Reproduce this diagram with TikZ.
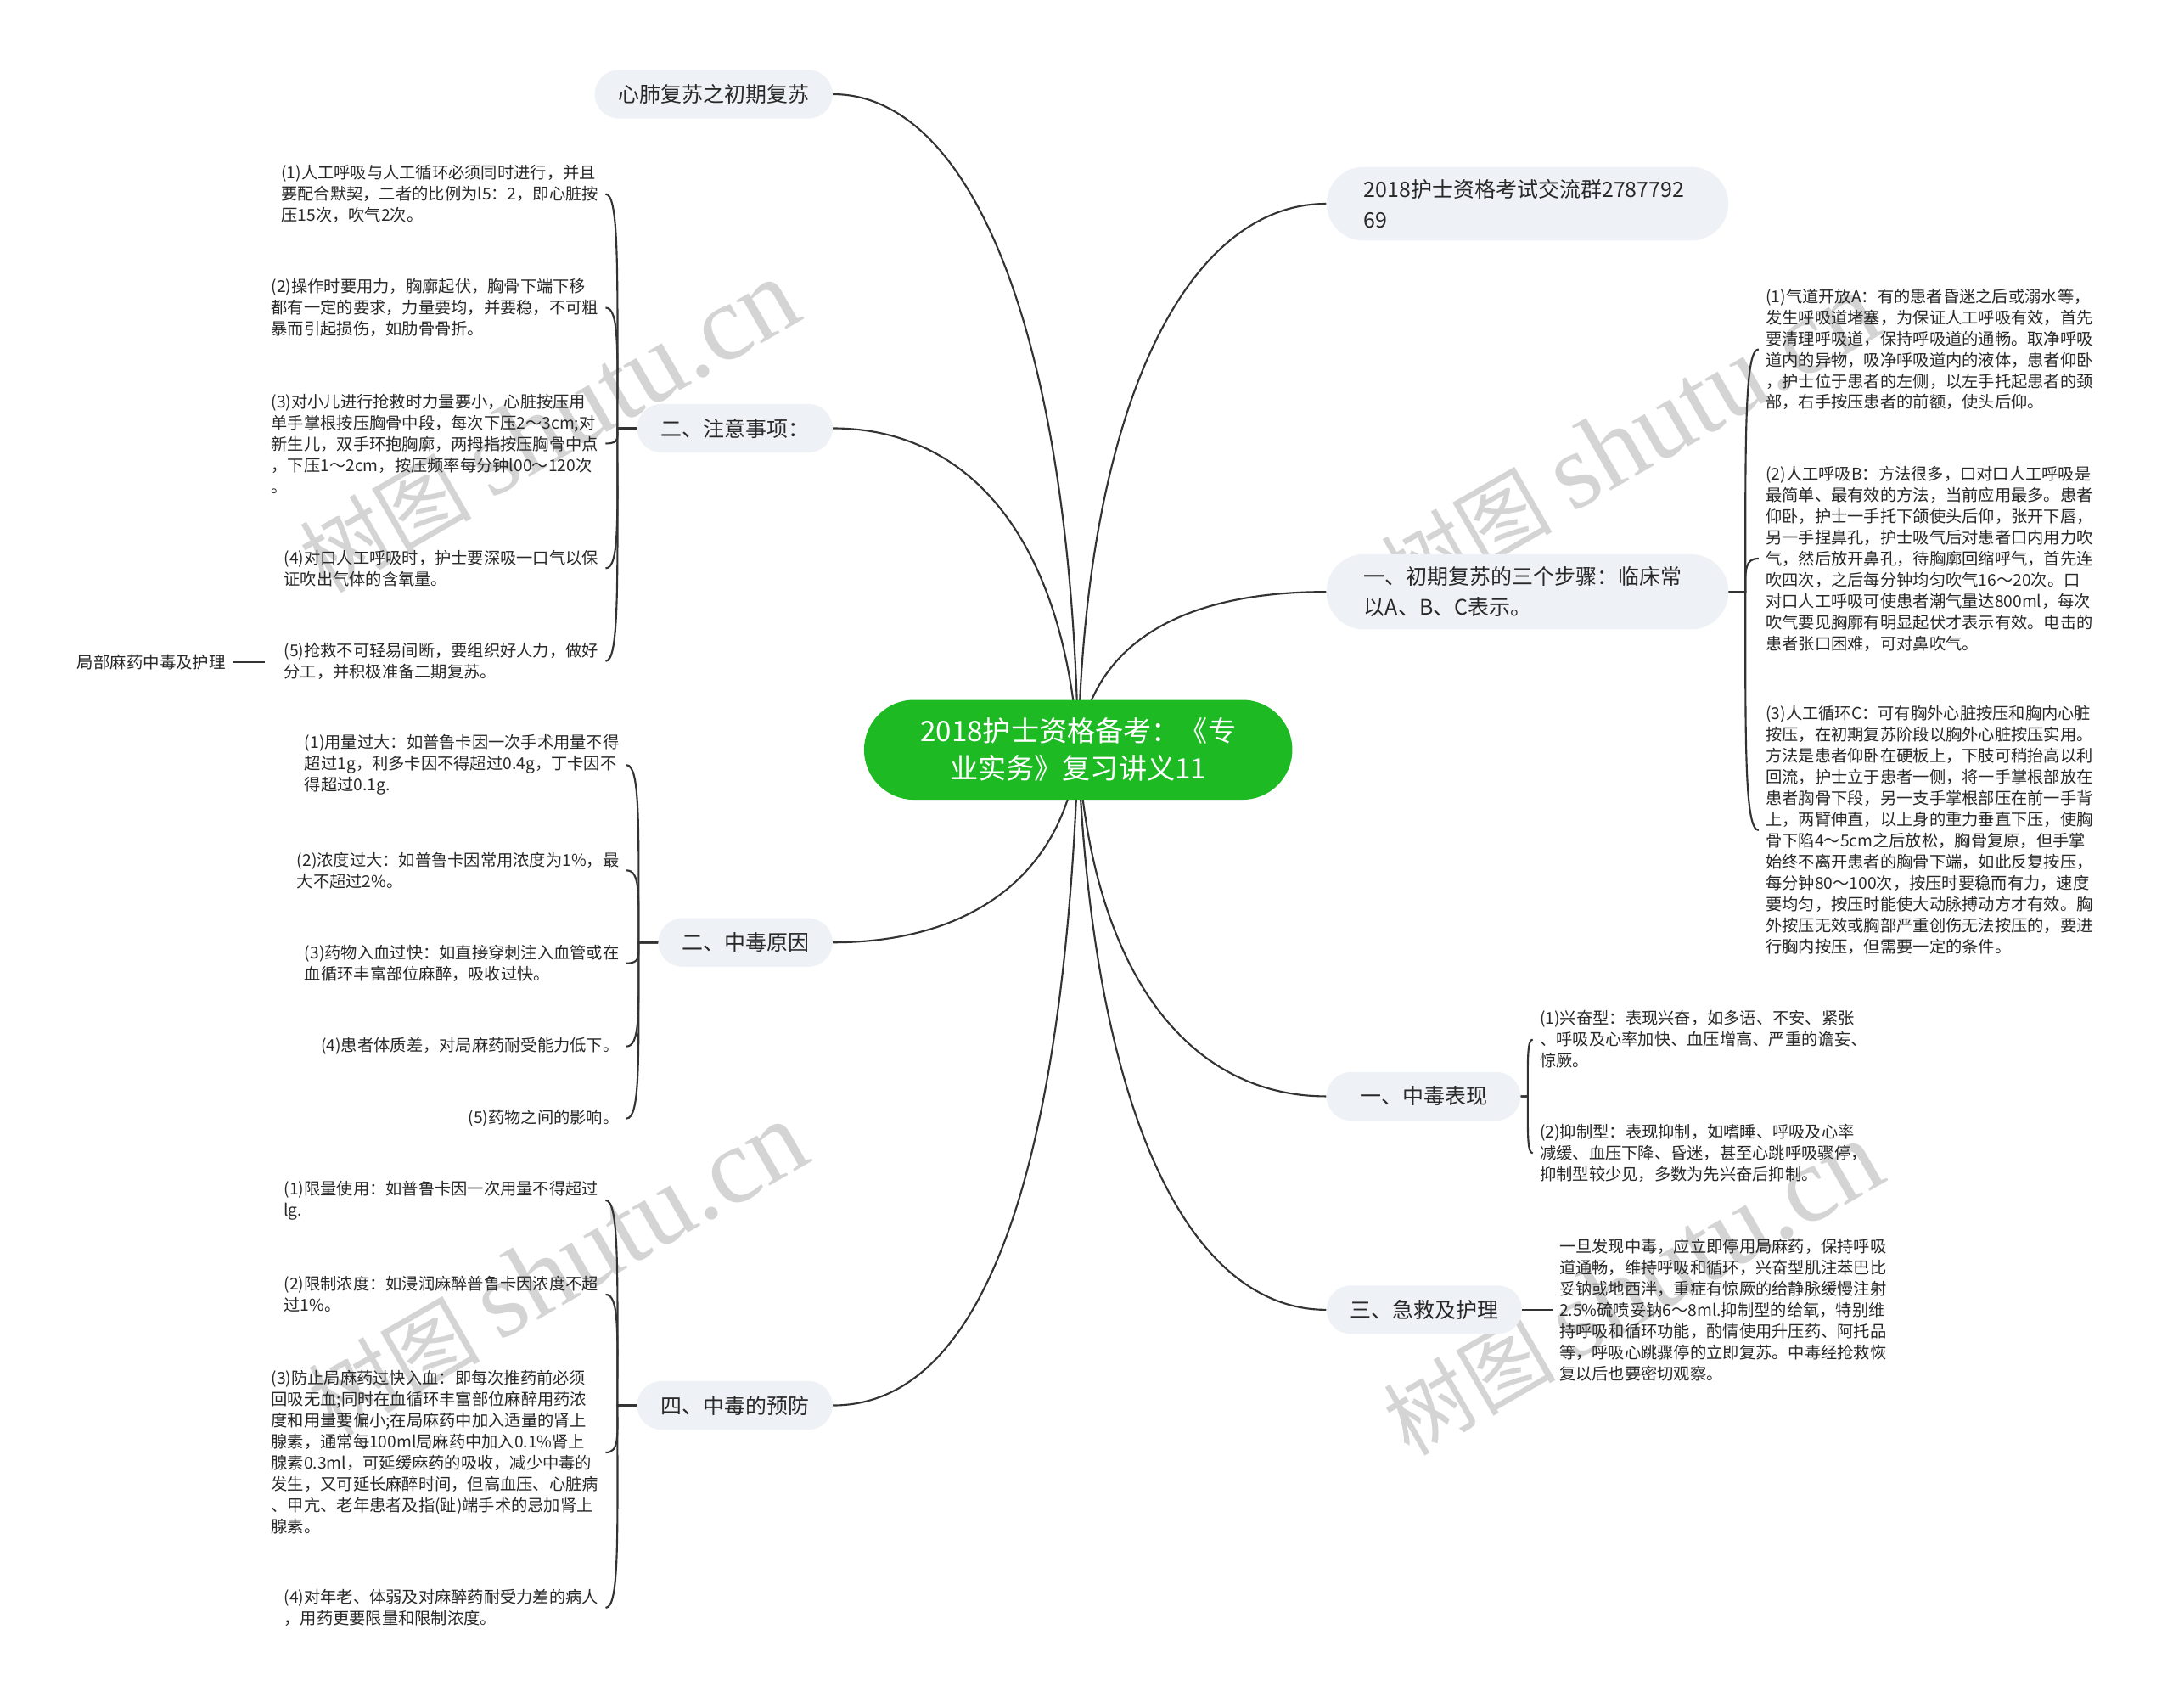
\documentclass[tikz,border=0pt]{standalone}
\usepackage{fontspec}
\setmainfont{Noto Sans CJK SC}
\newfontfamily\wmserif{Liberation Serif}
\usetikzlibrary{backgrounds}
\definecolor{linec}{RGB}{51,51,51}
\definecolor{pillc}{RGB}{238,241,245}
\definecolor{rootc}{RGB}{30,186,36}
\definecolor{textc}{RGB}{40,40,40}
\definecolor{wmc}{RGB}{212,212,212}
\newcommand{\wmtext}{{\fontsize{62}{62}\selectfont 树图}\hspace{14pt}{\wmserif\fontsize{78}{78}\selectfont shutu.cn}}
\begin{document}
\begin{tikzpicture}[x=1pt,y=-1pt,
  conn/.style={draw=linec, line width=1.3pt},
  pill/.style={fill=pillc, rounded corners=17.5pt, text=textc, font=\fontsize{15.3}{22}\selectfont, inner xsep=17pt, inner ysep=0pt, minimum height=35pt},
  widepill/.style={fill=pillc, rounded corners=27pt, text=textc, font=\fontsize{15.3}{22}\selectfont, inner xsep=27pt, inner ysep=9pt, text width=236pt, align=left},
  leaf/.style={text=textc, font=\fontsize{11.8}{15.3}\selectfont, align=left, inner xsep=5pt, inner ysep=2pt},
  lleaf/.style={leaf, anchor=east},
  rleaf/.style={leaf, anchor=west},
  wm/.style={text=wmc, rotate=30, inner sep=0pt},
]
\useasboundingbox (0,0) rectangle (1568,1232);

% root
\node[fill=rootc, text=white, rounded corners=36pt, minimum width=309pt, minimum height=72pt, align=center, font=\fontsize{20.3}{27}\selectfont, inner sep=0pt] (root) at (778,541) {2018护士资格备考：《专\\业实务》复习讲义11};

% branches
\node[pill, anchor=east] (b1) at (601,68) {心肺复苏之初期复苏};
\node[pill, anchor=east] (b2) at (601,309) {二、注意事项：};
\node[pill, anchor=east] (b3) at (601,680) {二、中毒原因};
\node[pill, anchor=east] (b4) at (601,1014) {四、中毒的预防};
\node[widepill, anchor=west] (b5) at (957,147) {2018护士资格考试交流群2787792\\69};
\node[widepill, anchor=west] (b6) at (957,427) {一、初期复苏的三个步骤：临床常\\以A、B、C表示。};
\node[pill, anchor=west, minimum width=140pt] (b7) at (957,791) {一、中毒表现};
\node[pill, anchor=west] (b8) at (957,945) {三、急救及护理};

% leaves: 注意事项
\node[lleaf] (z1) at (437,140) {(1)人工呼吸与人工循环必须同时进行，并且\\要配合默契，二者的比例为l5：2，即心脏按\\压15次，吹气2次。};
\node[lleaf] (z2) at (437,222) {(2)操作时要用力，胸廓起伏，胸骨下端下移\\都有一定的要求，力量要均，并要稳，不可粗\\暴而引起损伤，如肋骨骨折。};
\node[lleaf] (z3) at (437,320) {(3)对小儿进行抢救时力量要小，心脏按压用\\单手掌根按压胸骨中段，每次下压2～3cm;对\\新生儿，双手环抱胸廓，两拇指按压胸骨中点\\，下压1～2cm，按压频率每分钟l00～120次\\。};
\node[lleaf] (z4) at (437,410) {(4)对口人工呼吸时，护士要深吸一口气以保\\证吹出气体的含氧量。};
\node[lleaf] (z5) at (437,477) {(5)抢救不可轻易间断，要组织好人力，做好\\分工，并积极准备二期复苏。};
\node[leaf, anchor=east, font=\fontsize{11.9}{15.3}\selectfont] (lb) at (168,478) {局部麻药中毒及护理};
\coordinate (lbend) at (191,478);

% leaves: 中毒原因
\node[lleaf] (y1) at (452,552) {(1)用量过大：如普鲁卡因一次手术用量不得\\超过1g，利多卡因不得超过0.4g，丁卡因不\\得超过0.1g.};
\node[lleaf] (y2) at (452,628) {(2)浓度过大：如普鲁卡因常用浓度为1\%，最\\大不超过2\%。};
\node[lleaf] (y3) at (452,695) {(3)药物入血过快：如直接穿刺注入血管或在\\血循环丰富部位麻醉，吸收过快。};
\node[lleaf] (y4) at (452,755) {(4)患者体质差，对局麻药耐受能力低下。};
\node[lleaf] (y5) at (452,807) {(5)药物之间的影响。};

% leaves: 中毒的预防
\node[lleaf] (p1) at (437,866) {(1)限量使用：如普鲁卡因一次用量不得超过\\lg.};
\node[lleaf] (p2) at (437,934) {(2)限制浓度：如浸润麻醉普鲁卡因浓度不超\\过1\%。};
\node[lleaf] (p3) at (437,1048) {(3)防止局麻药过快入血：即每次推药前必须\\回吸无血;同时在血循环丰富部位麻醉用药浓\\度和用量要偏小;在局麻药中加入适量的肾上\\腺素，通常每100ml局麻药中加入0.1\%肾上\\腺素0.3ml，可延缓麻药的吸收，减少中毒的\\发生，又可延长麻醉时间，但高血压、心脏病\\、甲亢、老年患者及指(趾)端手术的忌加肾上\\腺素。};
\node[lleaf] (p4) at (437,1160) {(4)对年老、体弱及对麻醉药耐受力差的病人\\，用药更要限量和限制浓度。};

% leaves: 初期复苏
\node[rleaf] (s1) at (1269,252) {(1)气道开放A：有的患者昏迷之后或溺水等，\\发生呼吸道堵塞，为保证人工呼吸有效，首先\\要清理呼吸道，保持呼吸道的通畅。取净呼吸\\道内的异物，吸净呼吸道内的液体，患者仰卧\\，护士位于患者的左侧，以左手托起患者的颈\\部，右手按压患者的前额，使头后仰。};
\node[rleaf] (s2) at (1269,403) {(2)人工呼吸B：方法很多，口对口人工呼吸是\\最简单、最有效的方法，当前应用最多。患者\\仰卧，护士一手托下颌使头后仰，张开下唇，\\另一手捏鼻孔，护士吸气后对患者口内用力吹\\气，然后放开鼻孔，待胸廓回缩呼气，首先连\\吹四次，之后每分钟均匀吹气16～20次。口\\对口人工呼吸可使患者潮气量达800ml，每次\\吹气要见胸廓有明显起伏才表示有效。电击的\\患者张口困难，可对鼻吹气。};
\node[rleaf] (s3) at (1269,599) {(3)人工循环C：可有胸外心脏按压和胸内心脏\\按压，在初期复苏阶段以胸外心脏按压实用。\\方法是患者仰卧在硬板上，下肢可稍抬高以利\\回流，护士立于患者一侧，将一手掌根部放在\\患者胸骨下段，另一支手掌根部压在前一手背\\上，两臂伸直，以上身的重力垂直下压，使胸\\骨下陷4～5cm之后放松，胸骨复原，但手掌\\始终不离开患者的胸骨下端，如此反复按压，\\每分钟80～100次，按压时要稳而有力，速度\\要均匀，按压时能使大动脉搏动方才有效。胸\\外按压无效或胸部严重创伤无法按压的，要进\\行胸内按压，但需要一定的条件。};

% leaves: 中毒表现
\node[rleaf] (x1) at (1106,750) {(1)兴奋型：表现兴奋，如多语、不安、紧张\\、呼吸及心率加快、血压增高、严重的谵妄、\\惊厥。};
\node[rleaf] (x2) at (1106,832) {(2)抑制型：表现抑制，如嗜睡、呼吸及心率\\减缓、血压下降、昏迷，甚至心跳呼吸骤停，\\抑制型较少见，多数为先兴奋后抑制。};

% leaf: 急救及护理
\node[rleaf] (j1) at (1120,945) {一旦发现中毒，应立即停用局麻药，保持呼吸\\道通畅，维持呼吸和循环，兴奋型肌注苯巴比\\妥钠或地西泮，重症有惊厥的给静脉缓慢注射\\2.5\%硫喷妥钠6～8ml.抑制型的给氧，特别维\\持呼吸和循环功能，酌情使用升压药、阿托品\\等，呼吸心跳骤停的立即复苏。中毒经抢救恢\\复以后也要密切观察。};

\begin{scope}[on background layer]
\fill[white] (0,0) rectangle (1568,1232);
% watermarks
\node[wm] (w1) at (396,308) {\wmtext};
\node[wm] (w2) at (402,916) {\wmtext};
\node[wm] (w3) at (1176,318) {\wmtext};
\node[wm] (w4) at (1178,930) {\wmtext};

% root connectors
\draw[conn] (b1.east) .. controls +(100,0) and +(-5,-300) .. (root.center);
\draw[conn] (b2.east) .. controls +(100,0) and +(-10,-150) .. (root.center);
\draw[conn] (b3.east) .. controls +(100,0) and +(-10,90) .. (root.center);
\draw[conn] (b4.east) .. controls +(110,0) and +(-10,300) .. (root.center);
\draw[conn] (b5.west) .. controls +(-100,0) and +(5,-250) .. (root.center);
\draw[conn] (b6.west) .. controls +(-100,0) and +(10,-80) .. (root.center);
\draw[conn] (b7.west) .. controls +(-100,0) and +(10,160) .. (root.center);
\draw[conn] (b8.west) .. controls +(-100,0) and +(10,260) .. (root.center);
\end{scope}

% brace connectors: 注意事项
\draw[conn] (b2.west) -- ++(-14,0) .. controls +(0,-110) and +(10,0) .. (z1.east);
\draw[conn] (b2.west) -- ++(-14,0) .. controls +(0,-55) and +(10,0) .. (z2.east);
\draw[conn] (b2.west) -- ++(-14,0) .. controls +(0,7) and +(10,0) .. (z3.east);
\draw[conn] (b2.west) -- ++(-14,0) .. controls +(0,65) and +(10,0) .. (z4.east);
\draw[conn] (b2.west) -- ++(-14,0) .. controls +(0,110) and +(10,0) .. (z5.east);
\draw[conn] (lb.east) -- (lbend);

% 中毒原因
\draw[conn] (b3.west) -- ++(-14,0) .. controls +(0,-85) and +(10,0) .. (y1.east);
\draw[conn] (b3.west) -- ++(-14,0) .. controls +(0,-35) and +(10,0) .. (y2.east);
\draw[conn] (b3.west) -- ++(-14,0) .. controls +(0,10) and +(10,0) .. (y3.east);
\draw[conn] (b3.west) -- ++(-14,0) .. controls +(0,50) and +(10,0) .. (y4.east);
\draw[conn] (b3.west) -- ++(-14,0) .. controls +(0,85) and +(10,0) .. (y5.east);

% 中毒的预防
\draw[conn] (b4.west) -- ++(-14,0) .. controls +(0,-95) and +(10,0) .. (p1.east);
\draw[conn] (b4.west) -- ++(-14,0) .. controls +(0,-52) and +(10,0) .. (p2.east);
\draw[conn] (b4.west) -- ++(-14,0) .. controls +(0,22) and +(10,0) .. (p3.east);
\draw[conn] (b4.west) -- ++(-14,0) .. controls +(0,95) and +(10,0) .. (p4.east);

% 初期复苏
\draw[conn] (b6.east) -- ++(12,0) .. controls +(0,-115) and +(-10,0) .. (s1.west);
\draw[conn] (b6.east) -- ++(12,0) .. controls +(0,-16) and +(-10,0) .. (s2.west);
\draw[conn] (b6.east) -- ++(12,0) .. controls +(0,112) and +(-10,0) .. (s3.west);

% 中毒表现
\draw[conn] (b7.east) -- ++(5,0) .. controls +(0,-27) and +(-4,0) .. (x1.west);
\draw[conn] (b7.east) -- ++(5,0) .. controls +(0,27) and +(-4,0) .. (x2.west);

% 急救及护理
\draw[conn] (b8.east) -- (j1.west);
\end{tikzpicture}
\end{document}
